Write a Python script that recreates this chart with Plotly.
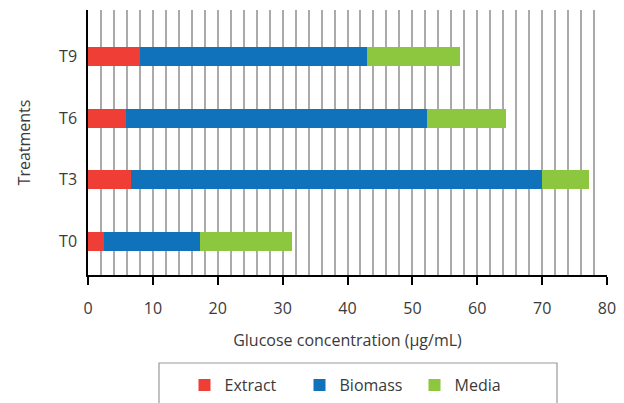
import plotly.graph_objects as go

treatments = ["T0", "T3", "T6", "T9"]
extract = [2.4, 6.7, 5.8, 8.0]
biomass = [14.8, 63.3, 46.4, 35.0]
media = [14.2, 7.2, 12.3, 14.4]

colors = {"Extract": "#EF3E36", "Biomass": "#1072BA", "Media": "#8DC63F"}

fig = go.Figure()
for name, vals in [("Extract", extract), ("Biomass", biomass), ("Media", media)]:
    fig.add_trace(go.Bar(
        y=treatments, x=vals, name=name, orientation="h",
        marker=dict(color=colors[name], line=dict(width=0)),
        width=0.31,
    ))

font_family = "'Open Sans', 'Noto Sans', sans-serif"
fig.update_layout(
    barmode="stack",
    width=624, height=403,
    margin=dict(l=88, r=17, t=10, b=128),
    plot_bgcolor="white", paper_bgcolor="white",
    font=dict(family=font_family, size=15, color="#3a3a3a"),
    showlegend=True,
    legend=dict(
        orientation="h", xref="container", yref="container",
        x=(358 - 1) / 624, xanchor="center",
        y=(403 - 385) / 403, yanchor="middle",
        font=dict(size=16, color="#3a3a3a"),
        entrywidth=70, entrywidthmode="pixels",
        bgcolor="rgba(0,0,0,0)", traceorder="normal",
    ),
    xaxis=dict(
        range=[0, 80], dtick=10, tick0=0, automargin=False,
        showgrid=True, gridcolor="#aaaaaa", gridwidth=1.5,
        minor=dict(dtick=2, showgrid=True, gridcolor="#aaaaaa", gridwidth=1.5),
        showline=True, linecolor="black", linewidth=1.5,
        ticks="outside", ticklen=8, tickcolor="black", tickwidth=1.5,
        ticklabelstandoff=10,
        zeroline=False,
        title=dict(text="Glucose concentration (μg/mL)", standoff=17,
                   font=dict(size=16, color="#3a3a3a")),
        tickfont=dict(size=16, color="#3a3a3a"),
    ),
    yaxis=dict(
        range=[-0.54, 3.75], automargin=False,
        showgrid=False,
        showline=True, linecolor="black", linewidth=1.5,
        ticks="outside", ticklen=6, tickcolor="rgba(0,0,0,0)",
        zeroline=False,
        title=dict(text="Treatments", standoff=24,
                   font=dict(size=16, color="#3a3a3a")),
        tickfont=dict(size=16, color="#3a3a3a"),
    ),
)

fig.add_shape(type="rect", xref="paper", yref="paper",
              x0=(159 - 88) / 519, x1=(557 - 88) / 519,
              y0=(275 - 410) / 265, y1=(275 - 363) / 265,
              line=dict(color="#999999", width=1.2), fillcolor="rgba(0,0,0,0)",
              layer="below")

fig.write_html("out.html", config={"displayModeBar": False},
               post_script="document.body.style.margin='0';document.body.style.overflow='hidden';")
